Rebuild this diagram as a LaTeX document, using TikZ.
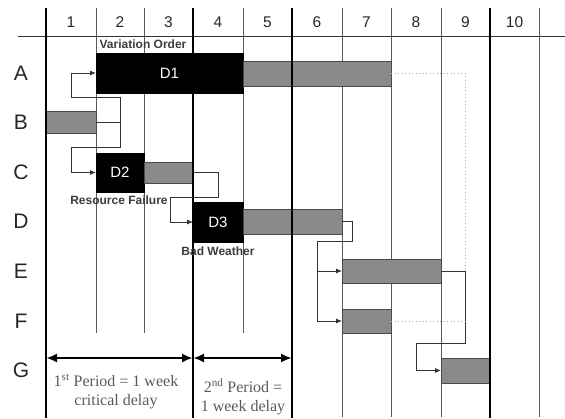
\documentclass[tikz,border=0pt]{standalone}
\usepackage{fontspec}
\setmainfont{Liberation Serif}
\setsansfont{Liberation Sans}
\usetikzlibrary{arrows.meta}
\definecolor{barfill}{HTML}{8A8A8A}
\definecolor{baredge}{HTML}{4A4A4A}
\definecolor{gridthin}{HTML}{5A5A5A}
\definecolor{labelgray}{HTML}{3C3C3C}
\definecolor{notegray}{HTML}{5A5A5A}
\definecolor{floatgray}{HTML}{A8A8A8}

\begin{document}
\begin{tikzpicture}[x=1pt,y=-1pt,
  gridthin/.style={draw=gridthin, line width=0.9pt},
  gridthick/.style={draw=black, line width=2.4pt},
  bar/.style={draw=baredge, fill=barfill, line width=0.8pt, inner sep=0pt, outer sep=0pt, anchor=north west},
  delaybox/.style={draw=black, fill=black, inner sep=0pt, outer sep=0pt, anchor=north west,
    text=white, font=\sffamily\fontsize{15}{15}\selectfont},
  header/.style={font=\sffamily\fontsize{15.5}{16}\selectfont, text=black!85},
  rowlabel/.style={font=\sffamily\fontsize{21}{21}\selectfont, text=black!85},
  cause/.style={font=\sffamily\bfseries\fontsize{12}{12}\selectfont, text=labelgray, inner sep=1pt},
  conn/.style={draw=black!80, line width=0.9pt},
  connarrow/.style={conn, -{Latex[length=6pt,width=5pt]}},
  float/.style={draw=floatgray, line width=0.9pt, dash pattern=on 1pt off 2.5pt},
  period/.style={draw=black, line width=2.3pt, {Latex[length=11pt,width=9pt]}-{Latex[length=11pt,width=9pt]}},
  periodtext/.style={font=\fontsize{16}{19}\selectfont, text=notegray, align=center}
]
\useasboundingbox (0,0) rectangle (565,419);

% header rule
\draw[draw=black!80, line width=0.9pt] (18,36) -- (565,36);

% thin week lines
\foreach \x in {96,144,243} \draw[gridthin] (\x,8) -- (\x,333);
\foreach \x in {342,391,441,539} \draw[gridthin] (\x,8) -- (\x,417);

% week numbers
\foreach \n/\x in {1/71,2/120,3/168.5,4/218,5/267.5,6/317,7/366.5,8/416,9/465.5,10/514.5}
  \node[header] (wk\n) at (\x,22) {\n};

% activity letters
\foreach \r/\y in {A/73.5,B/122,C/172.5,D/221.5,E/271,F/321,G/370.5}
  \node[rowlabel] (row\r) at (21,\y) {\r};

% activity bars and delay events
\node[delaybox, minimum width=147pt, minimum height=40pt] (d1) at (96,53) {D1};
\node[bar, minimum width=148pt, minimum height=25pt] (barA) at (243,61) {};
\node[bar, minimum width=50pt, minimum height=22pt] (barB) at (46,111) {};
\node[delaybox, minimum width=48pt, minimum height=39pt] (d2) at (96,153) {D2};
\node[bar, minimum width=49pt, minimum height=21pt] (barC) at (144,162) {};
\node[delaybox, minimum width=50pt, minimum height=40pt] (d3) at (193,202) {D3};
\node[bar, minimum width=99pt, minimum height=25pt] (barD) at (243,209) {};
\node[bar, minimum width=99pt, minimum height=24pt] (barE) at (342,259) {};
\node[bar, minimum width=49pt, minimum height=24pt] (barF) at (342,309) {};
\node[bar, minimum width=49pt, minimum height=25pt] (barG) at (441,358) {};

% thick period boundaries
\foreach \x in {46,193,292,490} \draw[gridthick] (\x,8) -- (\x,418);

% delay causes
\node[cause] (cause1) at (143,44) {Variation Order};
\node[cause] (cause2) at (119,200) {Resource Failure};
\node[cause] (cause3) at (218,251) {Bad Weather};

% logic links
\draw[conn] (barB.east) -- ++(24,0) coordinate (jB);
\draw[connarrow] (jB) |- ++(-49,-25) |- (d1.west);
\draw[connarrow] (jB) |- ++(-49,25) |- (d2.west);

\draw[connarrow] (barC.east) -- ++(25,0) |- ++(-48,25) |- (d3.west);

\draw[conn] (barD.east) -- ++(10,0) |- ++(-35,20) coordinate (jD);
\draw[connarrow] (jD) |- (barE.west);
\draw[connarrow] (jD) |- (barF.west);

\draw[conn] (barE.east) -- ++(24,0) coordinate (jE);
\draw[connarrow] (jE) |- ++(-49,72) |- (barG.west);

% free float
\draw[float] (barA.east) -| (jE);
\draw[float] (barF.east) -- (jE |- barF.east);

% delay periods
\coordinate (p0) at (46,358);
\coordinate (p1) at (193,358);
\coordinate (p2) at (292,358);
\draw[period] (p0) -- (p1);
\draw[period] (p1) -- (p2);
\node[periodtext] (per1) at (116,391.5) {1\textsuperscript{st} Period = 1 week\\critical delay};
\node[periodtext] (per2) at (243,397) {2\textsuperscript{nd} Period =\\1 week delay};
\end{tikzpicture}
\end{document}
